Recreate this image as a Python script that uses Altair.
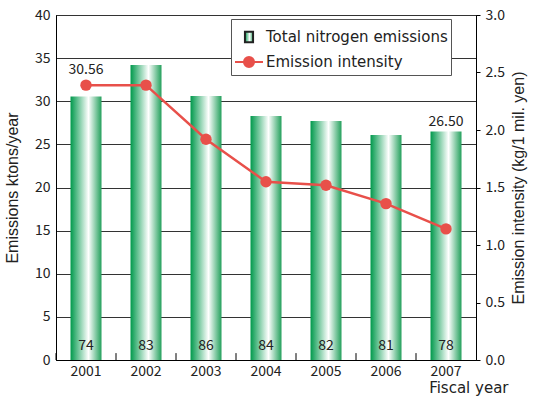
import altair as alt
import pandas as pd

# Fiscal years and the two series
years = ["2001", "2002", "2003", "2004", "2005", "2006", "2007"]
nitrogen = [30.56, 34.2, 30.6, 28.3, 27.7, 26.1, 26.50]      # ktons/year
intensity = [2.39, 2.39, 1.92, 1.55, 1.52, 1.36, 1.14]       # kg / 1 mil. yen
bar_notes = [74, 83, 86, 84, 82, 81, 78]
series_names = ["Total nitrogen emissions", "Emission intensity"]
labelled_first = "2001"
labelled_last = "2007"

df = pd.DataFrame({
    "year": years,
    "nitrogen": nitrogen,
    "intensity": intensity,
    "note": bar_notes,
})
df["nitrogen_label"] = [f"{v:.2f}" for v in nitrogen]

RED = "#e8504a"
TICK_FONT = "Noto Sans CJK JP"
TITLE_FONT = "Liberation Sans"
KEY_FONT = "DejaVu Sans"

bar_gradient = alt.Gradient(
    gradient="linear", x1=0, y1=0, x2=1, y2=0,
    stops=[
        alt.GradientStop(color="#00994c", offset=0),
        alt.GradientStop(color="#ffffff", offset=0.58),
        alt.GradientStop(color="#23a05c", offset=1),
    ],
)
legend_gradient = (
    "{gradient: 'linear', x1: 0, y1: 0, x2: 1, y2: 0, stops: ["
    "{offset: 0, color: '#00994c'}, {offset: 0.58, color: '#ffffff'}, "
    "{offset: 1, color: '#23a05c'}]}"
)
# legend glyphs: a small upright box and a line with a dot
box_path = "M-0.29,-0.38H0.29V0.38H-0.29Z"
dot_line_path = ("M-1,0H1M-0.36,0A0.36,0.36 0 1,0 0.36,0"
                 "A0.36,0.36 0 1,0 -0.36,0")

base = alt.Chart(df)

x_enc = alt.X(
    "year:N",
    scale=alt.Scale(paddingInner=0, paddingOuter=0),
    axis=alt.Axis(
        title="Fiscal year", ticks=False, labelAngle=0, labelPadding=4,
        labelFont=TICK_FONT, labelFontSize=14, labelColor="#222",
        domainColor="black", titleFont=KEY_FONT, titleFontSize=15,
        titleFontWeight="normal", titleColor="#222",
        titleAlign="right", titleBaseline="alphabetic",
        titleX=452, titleY=32, titleAngle=0,
    ),
)

y_left = alt.Y(
    "nitrogen:Q",
    scale=alt.Scale(domain=[0, 40], nice=False),
    axis=alt.Axis(
        title="Emissions ktons/year", values=list(range(0, 41, 5)),
        ticks=False, labelPadding=6, grid=True, gridColor="#333",
        gridWidth=1, domainColor="black",
        labelFont=TICK_FONT, labelFontSize=14, labelColor="#222",
        titleFont=TITLE_FONT, titleFontSize=16, titleFontWeight="normal",
        titleColor="#222", titlePadding=14,
    ),
)

bars = base.mark_bar(size=31, fill=bar_gradient).encode(x=x_enc, y=y_left)

# short upward ticks on the category boundaries
x_ticks = base.mark_rule(color="black", strokeWidth=1).encode(
    x=alt.X("year:N", bandPosition=0),
    y=alt.Y(datum=0),
    y2=alt.Y2(datum=0.8),
)

notes = base.mark_text(
    dy=-14, font=TICK_FONT, fontSize=14, color="#222"
).encode(x="year:N", y=alt.Y(datum=0), text="note:Q")

last_label = base.transform_filter(
    alt.datum.year == labelled_last
).mark_text(
    dy=-9, font=TICK_FONT, fontSize=14, color="#222"
).encode(x="year:N", y="nitrogen:Q", text="nitrogen_label:N")

left = alt.layer(bars, x_ticks, notes, last_label)

y_right = alt.Y(
    "intensity:Q",
    scale=alt.Scale(domain=[0, 3], nice=False),
    axis=alt.Axis(
        orient="right", title="Emission intensity (kg/1 mil. yen)",
        values=[0, 0.5, 1, 1.5, 2, 2.5, 3], format=".1f",
        tickSize=4, tickColor="black", labelPadding=5, grid=False,
        domainColor="black",
        labelFont=TICK_FONT, labelFontSize=14, labelColor="#222",
        titleFont=TITLE_FONT, titleFontSize=16, titleFontWeight="normal",
        titleColor="#222", titlePadding=6, titleAngle=270,
        titleBaseline="top",
    ),
)

line = base.mark_line(color=RED, strokeWidth=2.5).encode(x="year:N", y=y_right)
dots = base.mark_circle(color=RED, size=130, opacity=1).encode(
    x="year:N", y="intensity:Q")
first_label = base.transform_filter(
    alt.datum.year == labelled_first
).mark_text(
    dy=-15, font=TICK_FONT, fontSize=14, color="#222"
).encode(x="year:N", y="intensity:Q", text="nitrogen_label:N")

right = alt.layer(line, dots, first_label)

legend_spec = alt.Legend(
    title=None, orient="none", legendX=175, legendY=4,
    padding=3, rowPadding=-14, strokeColor="#555", fillColor="white",
    labelFont=KEY_FONT, labelFontSize=15, labelColor="#222",
    labelLimit=400, labelOffset=2, symbolSize=784, symbolStrokeWidth=2,
)
key = alt.Chart(pd.DataFrame({"series": series_names})).transform_filter(
    "false"
).mark_point(opacity=1).encode(
    fill=alt.Fill("series:N", scale=alt.Scale(
        domain=series_names, range=[{"expr": legend_gradient}, RED]),
        legend=legend_spec),
    stroke=alt.Stroke("series:N", scale=alt.Scale(
        domain=series_names, range=["#222", RED]), legend=legend_spec),
    shape=alt.Shape("series:N", scale=alt.Scale(
        domain=series_names, range=[box_path, dot_line_path]),
        legend=legend_spec),
)

chart = alt.layer(left, right, key).resolve_scale(
    y="independent"
).properties(
    width=420, height=345,
    padding={"left": 56, "top": 15, "right": 57, "bottom": 36},
    autosize=alt.AutoSizeParams(type="none"),
    background="white",
).configure_view(stroke="black", strokeWidth=1)

chart.save("out.html", embed_options={"renderer": "svg", "actions": False})
